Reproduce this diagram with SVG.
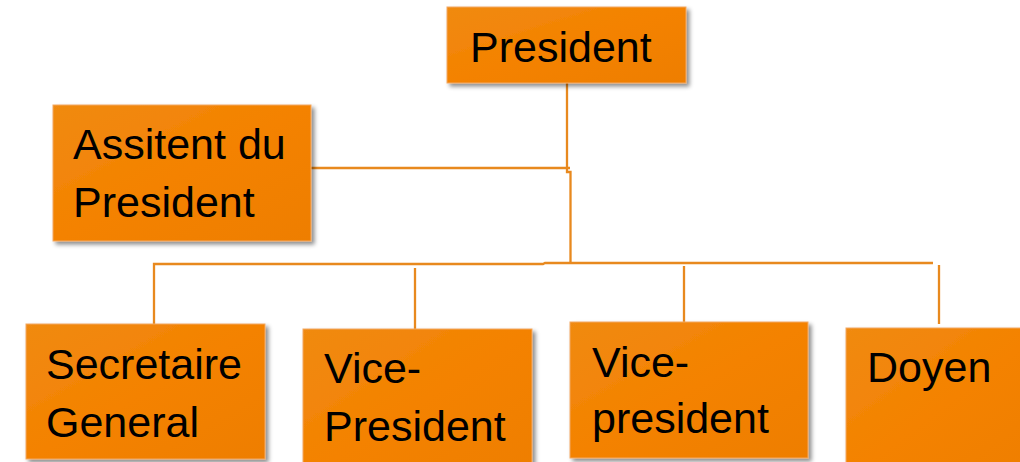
<svg xmlns="http://www.w3.org/2000/svg" width="1020" height="462" viewBox="0 0 1020 462">
  <defs>
    <linearGradient id="fillG" x1="0" y1="0" x2="1" y2="1">
      <stop offset="0" stop-color="#F08A12"/>
      <stop offset="0.5" stop-color="#F48200"/>
      <stop offset="1" stop-color="#EE7E00"/>
    </linearGradient>
    <filter id="shadow" x="-10%" y="-10%" width="130%" height="130%">
      <feDropShadow dx="3" dy="3" stdDeviation="2.2" flood-color="#000" flood-opacity="0.45"/>
    </filter>
  </defs>
  <style>
    .box { fill: url(#fillG); stroke: #F2A862; stroke-width: 1; filter: url(#shadow); }
    .lbl { font-family: "Liberation Sans", Arial, sans-serif; font-size: 43px; fill: #000; }
    .conn { fill: none; stroke: #E8891E; stroke-width: 2.3; }
  </style>
  <rect width="1020" height="462" fill="#FFFFFF"/>

  <g id="connectors">
    <path class="conn" d="M567,83 V172 H570.5 V263"/>
    <path class="conn" d="M311,168 H570"/>
    <path class="conn" d="M154,324 V264 H543 L545,263 H933"/>
    <path class="conn" d="M415,329 V268"/>
    <path class="conn" d="M684,322 V266"/>
    <path class="conn" d="M939,324 V265"/>
  </g>

  <g id="president">
    <rect class="box" x="447" y="7" width="239" height="76"/>
    <text class="lbl" x="470" y="62">President</text>
  </g>

  <g id="assistant">
    <rect class="box" x="53" y="105" width="258" height="136"/>
    <text class="lbl" x="73" y="159">Assitent du</text>
    <text class="lbl" x="73" y="217">President</text>
  </g>

  <g id="secretaire">
    <rect class="box" x="26" y="324" width="239" height="135"/>
    <text class="lbl" x="46" y="379">Secretaire</text>
    <text class="lbl" x="46" y="437">General</text>
  </g>

  <g id="vice-president-1">
    <rect class="box" x="303" y="329" width="229" height="150"/>
    <text class="lbl" x="324" y="383">Vice-</text>
    <text class="lbl" x="324" y="441">President</text>
  </g>

  <g id="vice-president-2">
    <rect class="box" x="570" y="322" width="238" height="136"/>
    <text class="lbl" x="592" y="377">Vice-</text>
    <text class="lbl" x="592" y="433">president</text>
  </g>

  <g id="doyen">
    <rect class="box" x="846" y="328" width="200" height="150"/>
    <text class="lbl" x="867" y="382">Doyen</text>
  </g>
</svg>
